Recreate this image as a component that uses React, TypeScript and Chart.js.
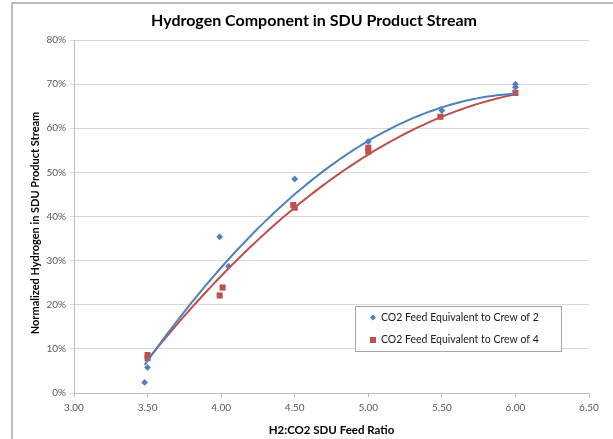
import React, { useEffect, useRef } from "react";
import { Chart, registerables } from "chart.js";

Chart.register(...registerables);

const TITLE = "Hydrogen Component in SDU Product Stream";
const X_TITLE = "H2:CO2 SDU Feed Ratio";
const Y_TITLE = "Normalized Hydrogen in SDU Product Stream";
const SERIES_NAMES = ["CO2 Feed Equivalent to Crew of 2", "CO2 Feed Equivalent to Crew of 4"];

// Crew of 2 (blue diamonds): feed ratio, normalized hydrogen (%)
const crew2X = [3.48, 3.5, 3.99, 4.05, 4.5, 5.0, 5.5, 6.0, 6.0];
const crew2Y = [2.4, 5.8, 35.4, 28.7, 48.5, 57.0, 64.0, 70.0, 69.3];
// Crew of 4 (red squares)
const crew4X = [3.5, 3.5, 3.99, 4.01, 4.49, 4.5, 5.0, 5.0, 5.49, 6.0];
const crew4Y = [8.6, 7.9, 22.1, 23.9, 42.6, 42.0, 55.6, 54.7, 62.6, 68.0];

// Polynomial (order 2) trendlines at these x positions
const trend2X = [3.48, 4.0, 4.5, 5.0, 5.5, 6.0];
const trend2Y = [6.2, 28.7, 45.1, 56.9, 64.7, 67.9];
const trend4X = [3.5, 4.0, 4.5, 5.0, 5.5, 6.0];
const trend4Y = [7.2, 27.2, 41.8, 54.0, 62.3, 67.9];

const X_MIN = 3.0;
const X_MAX = 6.5;
const X_STEP = 0.5;
const Y_MIN = 0;
const Y_MAX = 80;
const Y_STEP = 10;

const BLUE = "#4F81BD";
const RED = "#C0504D";
const FONT = "Lato, 'Open Sans', sans-serif";

// Least-squares quadratic through the trendline readings
function quadFit(xs: number[], ys: number[]) {
  const x0 = 4.75;
  const n = 3;
  const M: number[][] = [];
  for (let r = 0; r < n; r++) {
    const row: number[] = [];
    for (let c = 0; c < n; c++) {
      let s = 0;
      for (let i = 0; i < xs.length; i++) s += Math.pow(xs[i] - x0, r + c);
      row.push(s);
    }
    let t = 0;
    for (let i = 0; i < xs.length; i++) t += ys[i] * Math.pow(xs[i] - x0, r);
    row.push(t);
    M.push(row);
  }
  for (let c = 0; c < n; c++) {
    let p = c;
    for (let r = c + 1; r < n; r++) if (Math.abs(M[r][c]) > Math.abs(M[p][c])) p = r;
    [M[c], M[p]] = [M[p], M[c]];
    for (let r = 0; r < n; r++) {
      if (r === c) continue;
      const f = M[r][c] / M[c][c];
      for (let k = c; k <= n; k++) M[r][k] -= f * M[c][k];
    }
  }
  const coef = M.map((row, i) => row[n] / row[i]);
  return (x: number) => coef.reduce((acc, a, i) => acc + a * Math.pow(x - x0, i), 0);
}

function trend(xs: number[], ys: number[]) {
  const f = quadFit(xs, ys);
  const lo = Math.min(...xs), hi = Math.max(...xs);
  const n = 80;
  const pts: { x: number; y: number }[] = [];
  for (let i = 0; i <= n; i++) {
    const x = lo + ((hi - lo) * i) / n;
    pts.push({ x, y: f(x) });
  }
  return pts;
}

const decorPlugin = {
  id: "decor",
  beforeDraw(chart: any) {
    const ctx = chart.ctx;
    ctx.save();
    ctx.fillStyle = "#ffffff";
    ctx.fillRect(0, 0, chart.width, chart.height);
    ctx.strokeStyle = "#a6a6a6";
    ctx.lineWidth = 1.5;
    ctx.strokeRect(12, 3, chart.width + 20, chart.height + 20);
    ctx.restore();
  },
  afterDraw(chart: any) {
    const ctx = chart.ctx;
    const area = chart.chartArea;
    ctx.save();
    ctx.fillStyle = "#000000";
    ctx.font = `bold 16px ${FONT}`;
    ctx.textAlign = "center";
    ctx.textBaseline = "middle";
    ctx.fillText(TITLE, 314, 21);
    ctx.font = `bold 11px ${FONT}`;
    ctx.translate(35, 223);
    ctx.rotate(-Math.PI / 2);
    ctx.fillText(Y_TITLE, 0, 0);
    ctx.restore();

    ctx.save();
    const lx = area.left + 281, ly = 306, lw = 206, lh = 45;
    ctx.fillStyle = "#ffffff";
    ctx.fillRect(lx, ly, lw, lh);
    ctx.strokeStyle = "#a6a6a6";
    ctx.lineWidth = 1;
    ctx.strokeRect(lx + 0.5, ly + 0.5, lw, lh);
    ctx.font = `10.5px ${FONT}`;
    ctx.textAlign = "left";
    ctx.textBaseline = "middle";
    const rows = [ly + 11.5, ly + 34];
    ctx.fillStyle = BLUE;
    ctx.beginPath();
    const dx = lx + 18, dy = rows[0];
    ctx.moveTo(dx, dy - 3);
    ctx.lineTo(dx + 3, dy);
    ctx.lineTo(dx, dy + 3);
    ctx.lineTo(dx - 3, dy);
    ctx.closePath();
    ctx.fill();
    ctx.fillStyle = RED;
    ctx.fillRect(lx + 15, rows[1] - 3, 6, 6);
    ctx.fillStyle = "#1a1a1a";
    ctx.fillText(SERIES_NAMES[0], lx + 26, rows[0]);
    ctx.fillText(SERIES_NAMES[1], lx + 26, rows[1]);
    ctx.restore();
  },
};

export default function App() {
  const ref = useRef<HTMLCanvasElement | null>(null);
  useEffect(() => {
    document.body.style.margin = "0";
    const canvas = ref.current!;
    const pts = (xs: number[], ys: number[]) => xs.map((x, i) => ({ x, y: ys[i] }));
    const chart = new Chart(canvas, {
      type: "scatter",
      data: {
        datasets: [
          {
            label: SERIES_NAMES[0] + " trend",
            data: trend(trend2X, trend2Y),
            showLine: true,
            borderColor: BLUE,
            borderWidth: 2,
            pointRadius: 0,
            tension: 0,
          } as any,
          {
            label: SERIES_NAMES[1] + " trend",
            data: trend(trend4X, trend4Y),
            showLine: true,
            borderColor: RED,
            borderWidth: 2,
            pointRadius: 0,
            tension: 0,
          } as any,
          {
            label: SERIES_NAMES[0],
            data: pts(crew2X, crew2Y),
            pointStyle: "rectRot",
            pointRadius: 3.4,
            backgroundColor: BLUE,
            borderColor: BLUE,
            borderWidth: 0,
          },
          {
            label: SERIES_NAMES[1],
            data: pts(crew4X, crew4Y),
            pointStyle: "rect",
            pointRadius: 4.3,
            backgroundColor: RED,
            borderColor: RED,
            borderWidth: 0,
          },
        ],
      },
      options: {
        responsive: false,
        animation: false,
        devicePixelRatio: 1,
        layout: { padding: { left: 0, top: 40, right: 24, bottom: 0 } },
        plugins: {
          legend: { display: false },
          tooltip: { enabled: false },
          title: { display: false },
        },
        scales: {
          x: {
            type: "linear",
            min: X_MIN,
            max: X_MAX,
            afterFit: (s: any) => { s.height = 46; },
            ticks: {
              stepSize: X_STEP,
              callback: (v: any) => Number(v).toFixed(2),
              color: "#595959",
              font: { family: FONT, size: 10 },
              padding: 5,
              maxRotation: 0,
            },
            grid: { drawOnChartArea: false, tickLength: 4, color: "#bfbfbf" },
            border: { color: "#bfbfbf", width: 1 },
            title: {
              display: true,
              text: X_TITLE,
              color: "#000000",
              font: { family: FONT, size: 11.5, weight: "bold" },
              padding: { top: 0, bottom: 2 },
            },
          },
          y: {
            type: "linear",
            min: Y_MIN,
            max: Y_MAX,
            afterFit: (s: any) => { s.width = 74; },
            ticks: {
              stepSize: Y_STEP,
              callback: (v: any) => `${v}%`,
              color: "#595959",
              font: { family: FONT, size: 10 },
              padding: 4,
            },
            grid: { color: "#d9d9d9", tickLength: 4 },
            border: { color: "#bfbfbf", width: 1 },
          },
        },
      } as any,
      plugins: [decorPlugin],
    });
    return () => chart.destroy();
  }, []);
  return (
    <canvas
      ref={ref}
      width={613}
      height={439}
      style={{ display: "block", width: 613, height: 439 }}
    />
  );
}
